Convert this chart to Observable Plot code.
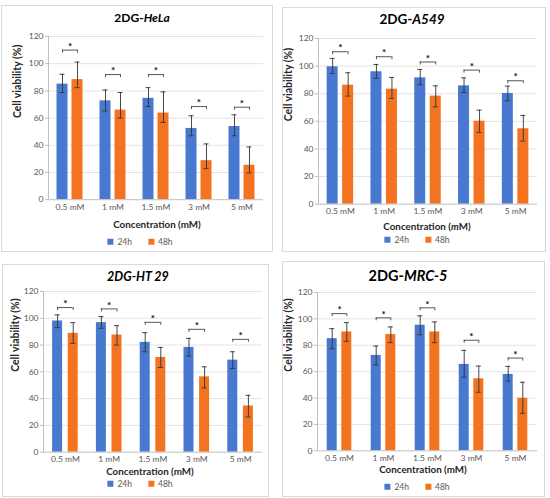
<!DOCTYPE html>
<html><head><meta charset="utf-8">
<script src="https://cdn.jsdelivr.net/npm/d3@7"></script>
<script src="https://cdn.jsdelivr.net/npm/@observablehq/plot@0.6"></script>
<style>
body{margin:0;background:#fff;font-family:Lato,sans-serif;}
#root{position:relative;width:550px;height:498px;overflow:hidden;background:#fff}
.box{position:absolute;border:1px solid #d9d9d9;box-sizing:border-box}
.abs{position:absolute;transform:translate(-50%,-50%);white-space:nowrap;color:#000;line-height:1}
.title{font-weight:bold}
.xt{font-weight:bold;font-size:9.8px;color:#262626}
.leg{display:flex;align-items:center;font-size:8.5px;color:#595959}
.sw{width:6px;height:6px;display:inline-block;margin-right:4px}
#root svg{position:absolute}
</style></head><body><div id="root"></div>
<script>
const conc = ["0.5 mM", "1 mM", "1.5 mM", "3 mM", "5 mM"];
const series = ["24h", "48h"];
const colors = ["#4878D0", "#F37321"];
const yTicks = [0, 20, 40, 60, 80, 100, 120];

// 2DG-HeLa
const hela24 = [85, 72.7, 74.5, 52.4, 53.8];
const hela24Lo = [78.8, 65.3, 68.5, 47, 47];
const hela24Hi = [92.2, 80.7, 82.4, 61.7, 62.4];
const hela48 = [88.3, 65.9, 63.7, 28.7, 25.3];
const hela48Lo = [82.4, 60, 56.8, 23, 19.7];
const hela48Hi = [101.2, 78.8, 79.3, 41, 38.8];
const helaSig = [110, 92, 92, 68.5, 68];

// 2DG-A549
const a549_24 = [99.5, 95.9, 91.5, 85.7, 80.2];
const a549_24Lo = [94.7, 91.1, 86.5, 80.9, 74.9];
const a549_24Hi = [105.6, 101.2, 97.6, 91.5, 85.5];
const a549_48 = [86.2, 83.3, 78.3, 60.1, 54.6];
const a549_48Lo = [78.3, 76.6, 70.5, 52, 45.7];
const a549_48Hi = [95.2, 91.8, 85.7, 68.1, 64.3];
const a549Sig = [110.4, 106.8, 103, 97.1, 89.4];

// 2DG-HT 29
const ht29_24 = [98, 96.75, 82, 78.25, 68.75];
const ht29_24Lo = [93, 92.5, 75, 71.75, 62.5];
const ht29_24Hi = [102.5, 101.25, 89.25, 85, 75];
const ht29_48 = [88.75, 87.5, 70.75, 56.25, 34.5];
const ht29_48Lo = [81.25, 80, 63.25, 48, 26.25];
const ht29_48Hi = [96.75, 94.5, 78.25, 63.75, 42.5];
const ht29Sig = [108, 107, 97, 91.75, 84.25];

// 2DG-MRC-5
const mrc5_24 = [85, 72.3, 95.2, 65.5, 57.9];
const mrc5_24Lo = [77.4, 65.2, 88, 55.8, 52.8];
const mrc5_24Hi = [92.6, 79.4, 102.3, 76.1, 64];
const mrc5_48 = [90.1, 88.1, 90.1, 54.6, 39.8];
const mrc5_48Lo = [83, 82, 82, 44.4, 28.4];
const mrc5_48Hi = [97.2, 93.9, 97.7, 64.2, 52];
const mrc5Sig = [104, 100.8, 108.4, 83.8, 70.3];

const root = document.getElementById("root");

function addDiv(cls, html, x, y, style) {
  const d = document.createElement("div");
  d.className = cls;
  d.innerHTML = html;
  d.style.left = x + "px";
  d.style.top = y + "px";
  Object.assign(d.style, style || {});
  root.appendChild(d);
  return d;
}

function panel(cfg) {
  const [bx, by, bw0, bh0] = cfg.box;
  const b = document.createElement("div");
  b.className = "box";
  Object.assign(b.style, {left: bx + "px", top: by + "px", width: bw0 + "px", height: bh0 + "px"});
  root.appendChild(b);

  const plotW = cfg.right - cfg.left;
  const step = plotW / conc.length;
  const pxPerUnit = (cfg.bottom - cfg.top) / 120;
  const hw = (cfg.bw / 2) / step;
  const offU = cfg.off / step;
  const capU = 2.5 / step;
  const tickU = 3 / pxPerUnit;

  const rows = [];
  series.forEach((s, k) => {
    const v = cfg.vals[k], lo = cfg.lo[k], hi = cfg.hi[k];
    conc.forEach((c, i) => {
      rows.push({c, s, k, v: v[i], lo: lo[i], hi: hi[i], xc: i + 0.5 + (k === 0 ? -offU : offU)});
    });
  });
  const sig = conc.map((c, i) => ({c, y: cfg.sig[i], xa: i + 0.5 - offU, xb: i + 0.5 + offU, xm: i + 0.5}));

  const ML = 48, MR = 6, MT = 12, MB = 20;
  const chart = Plot.plot({
    width: plotW + ML + MR,
    height: (cfg.bottom - cfg.top) + MT + MB,
    marginLeft: ML, marginRight: MR, marginTop: MT, marginBottom: MB,
    style: {fontFamily: "Lato, sans-serif", fontSize: "8.5px", color: "#595959", background: "transparent", overflow: "visible"},
    x: {domain: [0, conc.length]},
    y: {domain: [0, 120]},
    marks: [
      Plot.ruleY(yTicks.slice(1), {stroke: "#e4e4e4", strokeWidth: 1}),
      Plot.rectY(rows, {x1: d => d.xc - hw, x2: d => d.xc + hw, y: "v", fill: d => colors[d.k]}),
      Plot.ruleX(rows, {x: "xc", y1: "lo", y2: "hi", stroke: "#333", strokeWidth: 0.9}),
      Plot.ruleY(rows, {y: "hi", x1: d => d.xc - capU, x2: d => d.xc + capU, stroke: "#333", strokeWidth: 0.9}),
      Plot.ruleY(rows, {y: "lo", x1: d => d.xc - capU, x2: d => d.xc + capU, stroke: "#333", strokeWidth: 0.9}),
      Plot.ruleY(sig, {y: "y", x1: "xa", x2: "xb", stroke: "#444", strokeWidth: 0.9}),
      Plot.ruleX(sig, {x: "xa", y1: "y", y2: d => d.y - tickU, stroke: "#444", strokeWidth: 0.9}),
      Plot.ruleX(sig, {x: "xb", y1: "y", y2: d => d.y - tickU, stroke: "#444", strokeWidth: 0.9}),
      Plot.text(sig, {x: "xm", y: "y", text: () => "*", dy: -3.5, fontSize: 10, fontWeight: "bold", fill: "#111"}),
      Plot.ruleY([0], {stroke: "#bfbfbf"}),
      Plot.ruleX([0], {stroke: "#bfbfbf"}),
      Plot.axisY({ticks: yTicks, tickSize: 3, tickPadding: 2, stroke: "#bfbfbf", label: null}),
      Plot.axisX({ticks: conc.map((_, i) => i + 0.5), tickFormat: d => conc[Math.floor(d)], tickSize: 0, tickPadding: 4, label: null}),
      Plot.text(["Cell viability (%)"], {frameAnchor: "left", rotate: -90, dx: -cfg.ytDx, fontWeight: "bold", fontSize: 10.5, fill: "#262626"})
    ]
  });
  chart.style.left = (cfg.left - ML) + "px";
  chart.style.top = (cfg.top - MT) + "px";
  root.appendChild(chart);

  addDiv("abs title", cfg.title.html, cfg.title.x, cfg.title.y, {fontSize: cfg.title.size + "px"});
  addDiv("abs xt", cfg.xt.html, cfg.xt.x, cfg.xt.y);
  const legHtml = series.map((s, k) =>
    `<span class="sw" style="background:${colors[k]}"></span><span style="margin-right:${k === 0 ? 16 : 0}px">${s}</span>`).join("");
  addDiv("abs leg", legHtml, cfg.leg.x, cfg.leg.y);
}

panel({
  left: 48, right: 263, top: 36, bottom: 199.2, bw: 11, off: 7.5, ytDx: 31,
  box: [1, 5, 272, 247],
  vals: [hela24, hela48], lo: [hela24Lo, hela48Lo], hi: [hela24Hi, hela48Hi], sig: helaSig,
  title: {html: "2DG-<i>HeLa</i>", x: 142, y: 18, size: 12},
  xt: {html: "Concentration (mM)", x: 157, y: 225},
  leg: {x: 140, y: 242}
});
panel({
  left: 318, right: 537, top: 38.3, bottom: 204, bw: 11, off: 7.75, ytDx: 30,
  box: [282, 7, 264, 245],
  vals: [a549_24, a549_48], lo: [a549_24Lo, a549_48Lo], hi: [a549_24Hi, a549_48Hi], sig: a549Sig,
  title: {html: "2DG-<i>A549</i>", x: 412, y: 20, size: 13.5},
  xt: {html: "Concentration (<i>m</i>M)", x: 427, y: 227},
  leg: {x: 417, y: 240}
});
panel({
  left: 43, right: 262, top: 291, bottom: 451.7, bw: 10, off: 7.8, ytDx: 28,
  box: [2, 264, 267, 233],
  vals: [ht29_24, ht29_48], lo: [ht29_24Lo, ht29_48Lo], hi: [ht29_24Hi, ht29_48Hi], sig: ht29Sig,
  title: {html: "<i>2DG-HT 29</i>", x: 138, y: 277, size: 12.5},
  xt: {html: "Concentration (mM)", x: 150, y: 472},
  leg: {x: 140, y: 484}
});
panel({
  left: 317, right: 537, top: 292.3, bottom: 450.6, bw: 10, off: 7.3, ytDx: 29,
  box: [282, 261, 263, 236],
  vals: [mrc5_24, mrc5_48], lo: [mrc5_24Lo, mrc5_48Lo], hi: [mrc5_24Hi, mrc5_48Hi], sig: mrc5Sig,
  title: {html: "2DG-<i>MRC-5</i>", x: 408, y: 276, size: 14.5},
  xt: {html: "Concentration (mM)", x: 423, y: 470},
  leg: {x: 417, y: 487}
});
</script></body></html>
